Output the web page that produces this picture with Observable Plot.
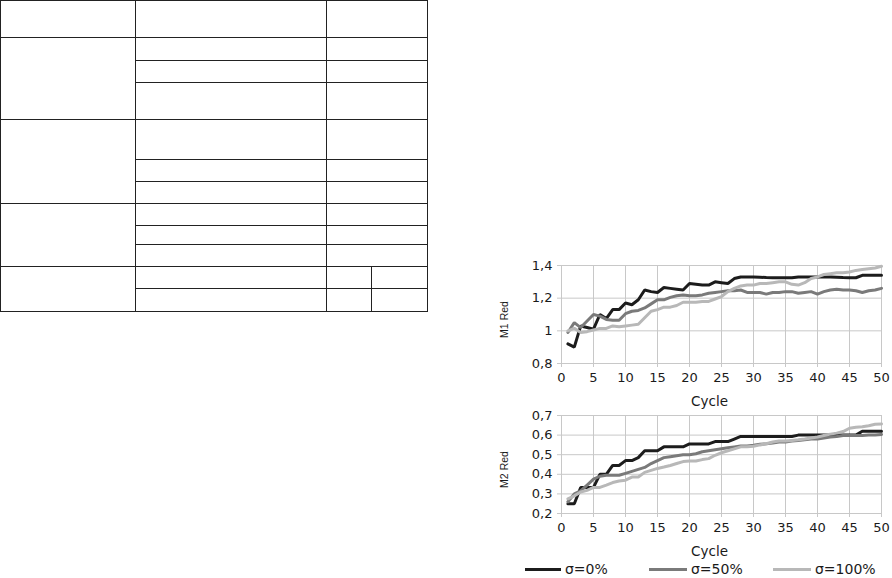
<!DOCTYPE html>
<html>
<head>
<meta charset="utf-8">
<script src="https://cdn.jsdelivr.net/npm/d3@7"></script>
<script src="https://cdn.jsdelivr.net/npm/@observablehq/plot@0.6"></script>
<style>
  html, body { margin: 0; padding: 0; background: #fff; }
  body { width: 892px; height: 578px; position: relative; overflow: hidden; font-family: "DejaVu Sans", sans-serif; }
  table.t { position: absolute; left: 0; top: 0; width: 427px; border-collapse: collapse; table-layout: fixed; }
  table.t td { border: 1.5px solid #222; padding: 0; }
  .chart { position: absolute; left: 490px; }
  .legend { position: absolute; top: 561px; left: 0; font-size: 14px; color: #1a1a1a; }
  .li { position: absolute; display: flex; align-items: center; white-space: nowrap; }
  .li span.sw { display: inline-block; height: 3px; margin-right: 4px; }
</style>
</head>
<body>
<table class="t">
  <colgroup><col style="width:135px"><col style="width:191px"><col style="width:45px"><col style="width:56px"></colgroup>
  <tr style="height:37px"><td></td><td></td><td colspan="2"></td></tr>
  <tr style="height:23px"><td rowspan="3"></td><td></td><td colspan="2"></td></tr>
  <tr style="height:22px"><td></td><td colspan="2"></td></tr>
  <tr style="height:37px"><td></td><td colspan="2"></td></tr>
  <tr style="height:40px"><td rowspan="3"></td><td></td><td colspan="2"></td></tr>
  <tr style="height:22px"><td></td><td colspan="2"></td></tr>
  <tr style="height:22px"><td></td><td colspan="2"></td></tr>
  <tr style="height:22px"><td rowspan="3"></td><td></td><td colspan="2"></td></tr>
  <tr style="height:19px"><td></td><td colspan="2"></td></tr>
  <tr style="height:22px"><td></td><td colspan="2"></td></tr>
  <tr style="height:22px"><td rowspan="2"></td><td></td><td></td><td></td></tr>
  <tr style="height:23px"><td></td><td></td><td></td></tr>
</table>
<div id="c1" class="chart" style="top:250px"></div>
<div id="c2" class="chart" style="top:400px"></div>
<div id="legend" class="legend"></div>
<script>
const cycles = d3.range(1, 51);
const seriesNames = ["σ=0%", "σ=50%", "σ=100%"];
const seriesColors = ["#1c1c1c", "#7a7a7a", "#b8b8b8"];
const xTicks = [0, 5, 10, 15, 20, 25, 30, 35, 40, 45, 50];
const m1Ticks = [0.8, 1, 1.2, 1.4];
const m2Ticks = [0.2, 0.3, 0.4, 0.5, 0.6, 0.7];

const m1_s0 = [0.92,0.90,1.03,1.02,1.01,1.10,1.075,1.13,1.13,1.17,1.16,1.19,1.25,1.24,1.235,1.265,1.26,1.255,1.25,1.29,
  1.285,1.28,1.28,1.30,1.295,1.29,1.32,1.33,1.33,1.33,1.328,1.326,1.325,1.325,1.325,1.325,1.33,1.33,1.33,1.33,
  1.33,1.33,1.328,1.326,1.325,1.325,1.34,1.34,1.34,1.34];
const m1_s50 = [0.99,1.05,1.02,1.06,1.10,1.09,1.07,1.065,1.065,1.105,1.12,1.125,1.14,1.165,1.19,1.19,1.205,1.215,1.22,1.215,
  1.215,1.22,1.23,1.235,1.24,1.245,1.245,1.25,1.235,1.235,1.235,1.225,1.235,1.235,1.24,1.24,1.23,1.235,1.24,1.225,
  1.24,1.25,1.255,1.25,1.25,1.245,1.235,1.245,1.25,1.26];
const m1_s100 = [1.0,1.015,0.99,0.995,1.005,1.015,1.015,1.03,1.025,1.03,1.035,1.04,1.08,1.12,1.13,1.145,1.145,1.155,1.175,1.175,
  1.175,1.18,1.18,1.195,1.21,1.24,1.26,1.275,1.28,1.28,1.29,1.29,1.295,1.30,1.30,1.285,1.28,1.295,1.32,1.33,
  1.345,1.35,1.355,1.355,1.36,1.37,1.375,1.38,1.385,1.395];

const m2_s0 = [0.25,0.25,0.333,0.333,0.333,0.40,0.40,0.445,0.445,0.47,0.47,0.485,0.52,0.52,0.52,0.54,0.54,0.54,0.54,0.555,
  0.555,0.555,0.555,0.567,0.567,0.567,0.58,0.593,0.593,0.593,0.593,0.593,0.593,0.593,0.593,0.593,0.60,0.60,0.60,0.60,
  0.60,0.60,0.60,0.60,0.60,0.60,0.62,0.62,0.62,0.62];
const m2_s50 = [0.26,0.30,0.315,0.345,0.375,0.39,0.395,0.395,0.395,0.405,0.415,0.425,0.435,0.455,0.47,0.485,0.49,0.495,0.50,0.50,
  0.505,0.515,0.52,0.525,0.53,0.535,0.54,0.545,0.545,0.548,0.553,0.556,0.56,0.565,0.565,0.57,0.573,0.576,0.58,0.58,
  0.585,0.59,0.593,0.598,0.598,0.598,0.598,0.60,0.60,0.603];
const m2_s100 = [0.275,0.29,0.31,0.318,0.333,0.333,0.345,0.358,0.366,0.37,0.386,0.386,0.41,0.42,0.43,0.437,0.445,0.455,0.465,0.468,
  0.468,0.475,0.48,0.497,0.51,0.52,0.53,0.54,0.54,0.543,0.55,0.556,0.565,0.57,0.57,0.573,0.576,0.58,0.585,0.59,
  0.598,0.605,0.61,0.618,0.635,0.64,0.643,0.648,0.655,0.657];

function table(seriesArrays) {
  const rows = [];
  seriesArrays.forEach((arr, i) => arr.forEach((v, j) => rows.push({cycle: cycles[j], value: v, series: seriesNames[i]})));
  return rows;
}

const fmt = d => String(d).replace(".", ",");
const font = '"DejaVu Sans", sans-serif';

function chart(data, yDomain, yTicks, yLabel) {
  return Plot.plot({
    width: 402,
    height: 160,
    marginLeft: 71,
    marginRight: 11,
    marginTop: 15,
    marginBottom: 47,
    style: {fontFamily: font, fontSize: "13px", color: "#1a1a1a", background: "transparent"},
    x: {domain: [0, 50]},
    y: {domain: yDomain},
    color: {domain: seriesNames, range: seriesColors},
    marks: [
      Plot.gridX(xTicks, {stroke: "#c8c8c8", strokeOpacity: 1}),
      Plot.gridY(yTicks, {stroke: "#c8c8c8", strokeOpacity: 1}),
      Plot.axisX(xTicks, {tickSize: 4, tickPadding: 5, stroke: "#c8c8c8", fill: "#1a1a1a", label: null, tickFormat: fmt, fontSize: 13}),
      Plot.axisY(yTicks, {tickSize: 4, tickPadding: 5, stroke: "#c8c8c8", fill: "#1a1a1a", label: null, tickFormat: fmt, fontSize: 13}),
      Plot.line(data, {x: "cycle", y: "value", z: "series", stroke: "series", strokeWidth: 3, strokeLinejoin: "miter"}),
      Plot.text(["Cycle"], {frameAnchor: "bottom", textAnchor: "middle", dx: -12, dy: 42, fontSize: 13.5, fill: "#1a1a1a"}),
      Plot.text([yLabel], {frameAnchor: "left", textAnchor: "middle", lineAnchor: "middle", dx: -57, dy: 5, rotate: -90, fontFamily: '"Liberation Sans", Arial, sans-serif', fontSize: 10.5, fill: "#1a1a1a"})
    ]
  });
}

document.getElementById("c1").append(chart(table([m1_s0, m1_s50, m1_s100]), [0.8, 1.4], m1Ticks, "M1 Red"));
document.getElementById("c2").append(chart(table([m2_s0, m2_s50, m2_s100]), [0.2, 0.7], m2Ticks, "M2 Red"));

const legendPos = [525, 649, 773];
const legend = document.getElementById("legend");
seriesNames.forEach((name, i) => {
  const item = document.createElement("div");
  item.className = "li";
  item.style.left = legendPos[i] + "px";
  const sw = document.createElement("span");
  sw.className = "sw";
  sw.style.width = (i === 0 ? 36 : 38) + "px";
  sw.style.background = seriesColors[i];
  item.append(sw, document.createTextNode(name));
  legend.append(item);
});
</script>
</body>
</html>
